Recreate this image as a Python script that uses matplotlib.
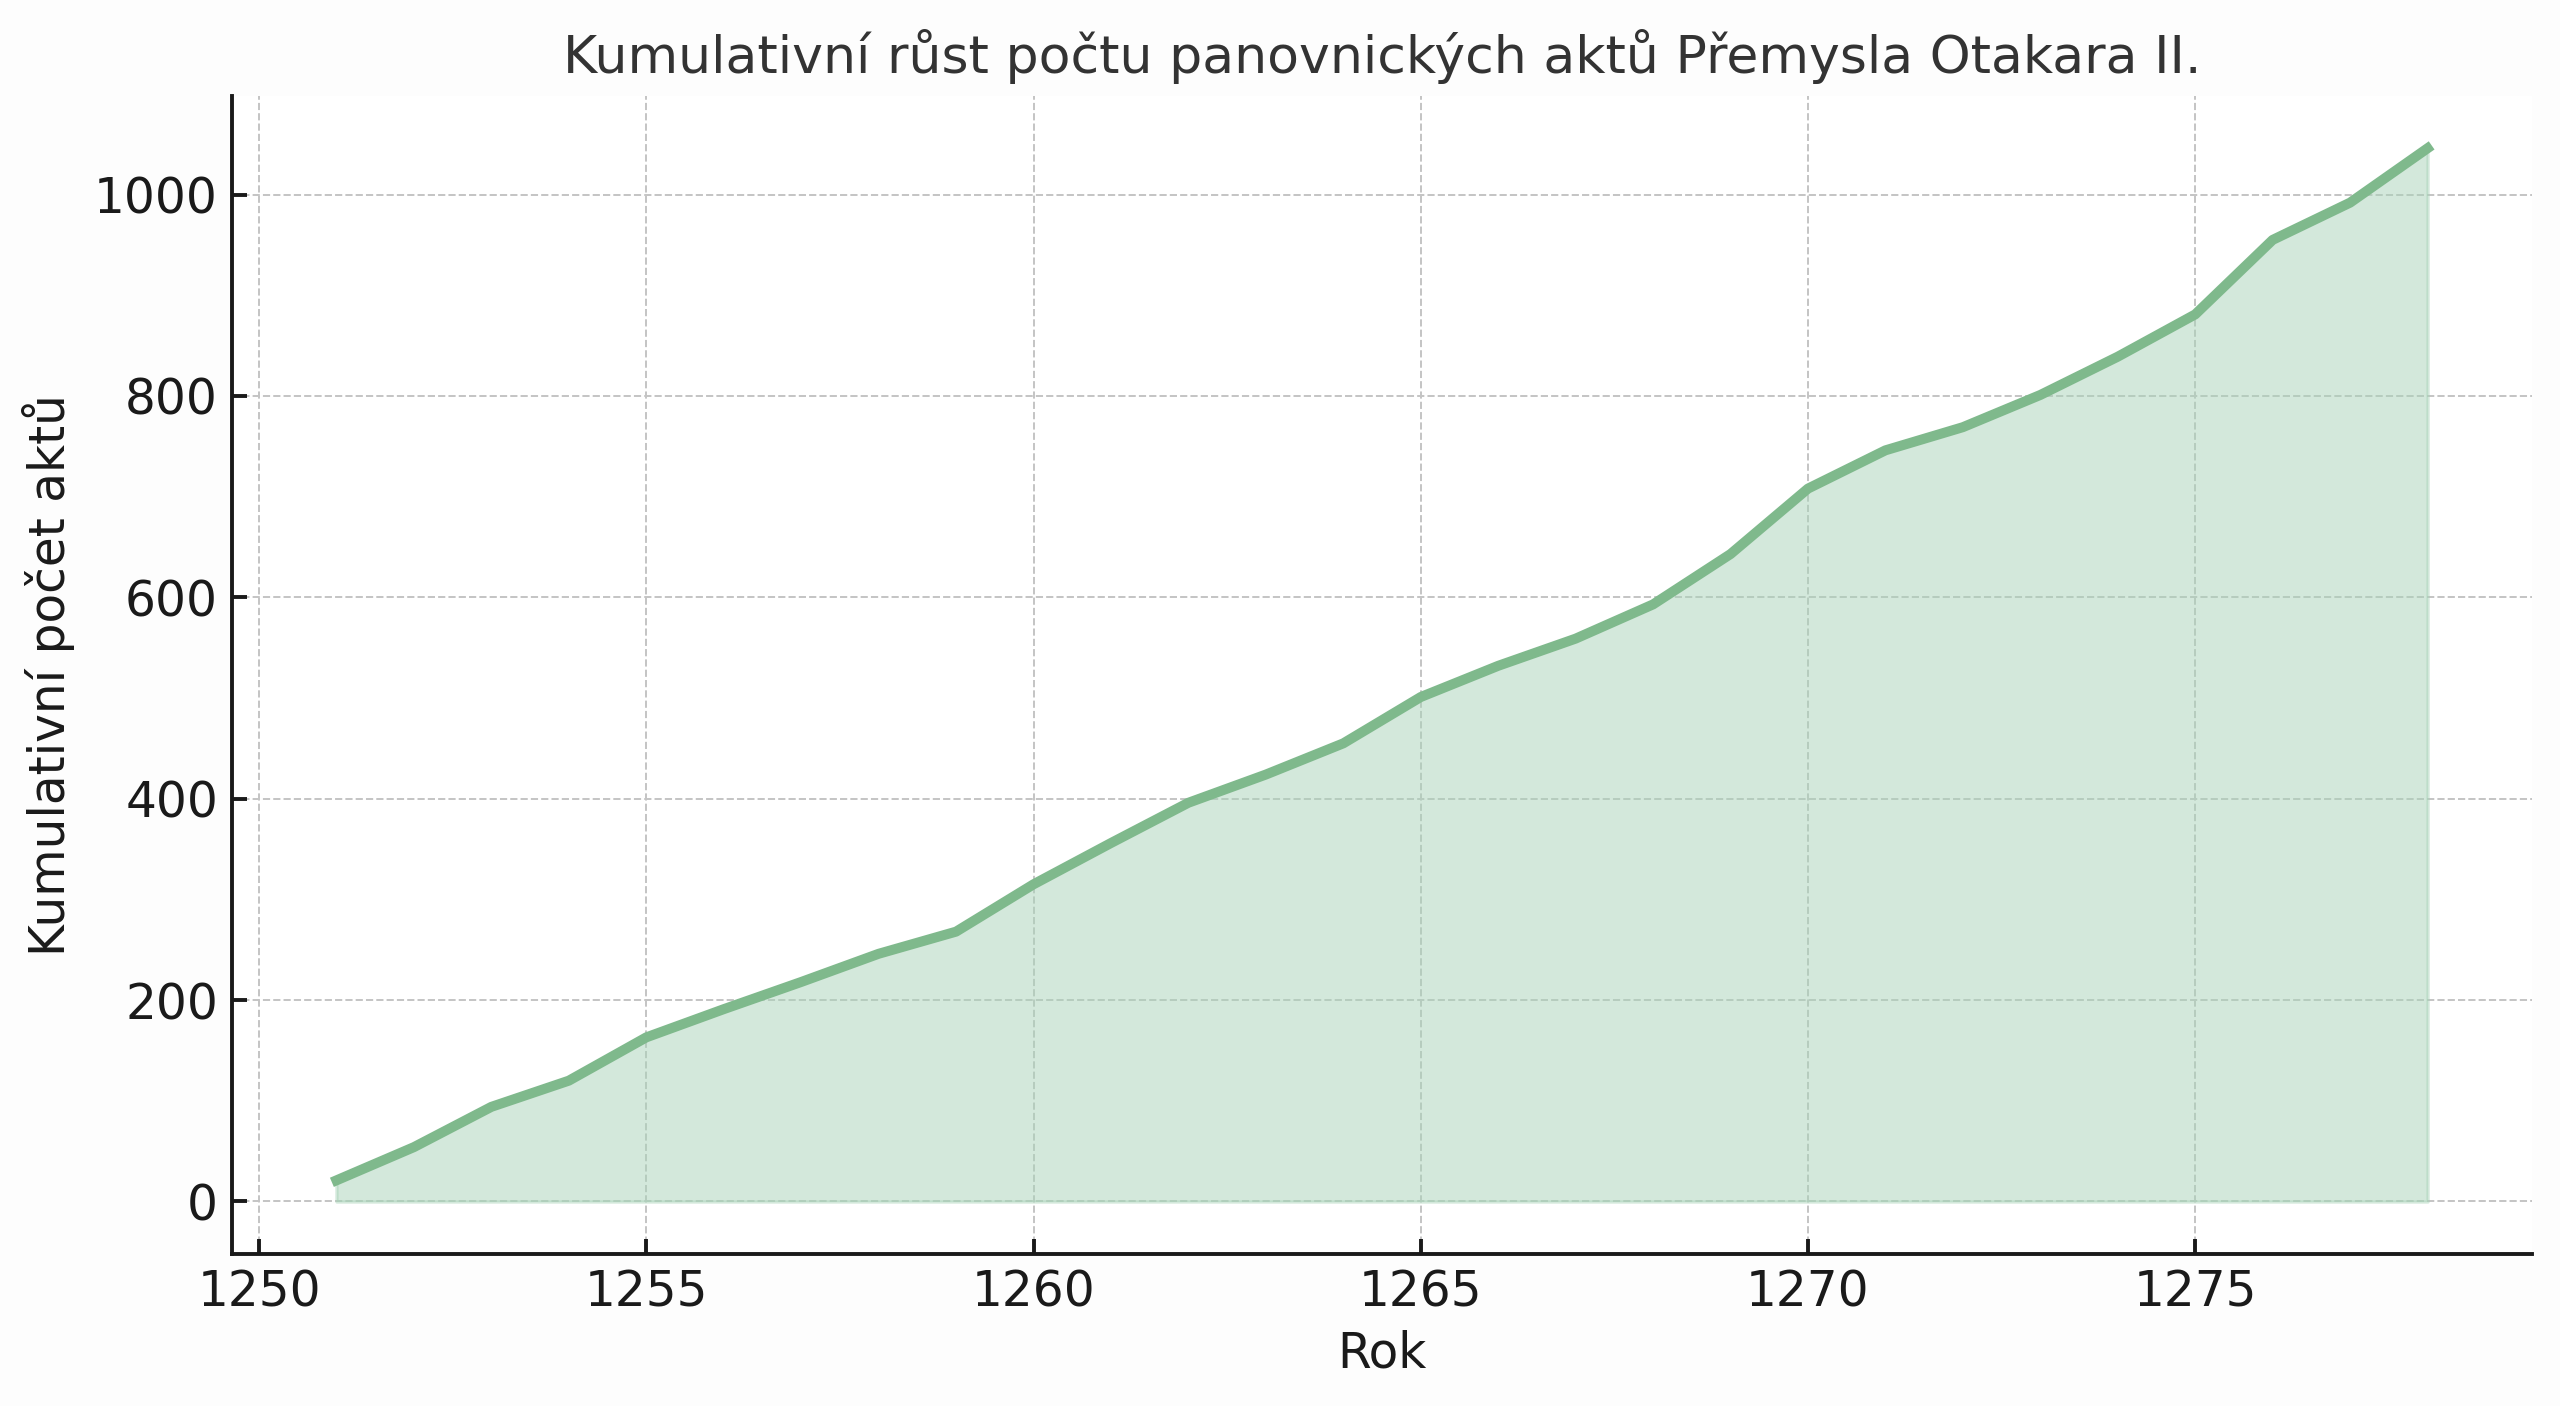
import matplotlib
matplotlib.use('Agg')
import matplotlib.pyplot as plt

years = list(range(1251, 1279))
cumulative_acts = [21, 54, 94, 120, 163, 191, 218, 246, 268, 315,
                   356, 396, 424, 455, 501, 532, 559, 593, 643, 708,
                   746, 769, 801, 839, 881, 955, 992, 1046]

title = 'Kumulativní růst počtu panovnických aktů Přemysla Otakara II.'
xlabel = 'Rok'
ylabel = 'Kumulativní počet aktů'

plt.rcParams['font.family'] = ['DejaVu Sans']

fig = plt.figure(figsize=(12.8, 7.03), dpi=200, facecolor='#fdfdfd')
ax = fig.add_axes([0.0906, 0.108, 0.8985, 0.824])
ax.set_facecolor('white')

ax.fill_between(years, cumulative_acts, color='#a9d3b9', alpha=0.5, lw=1.2, zorder=2)
ax.plot(years, cumulative_acts, color='#7fb98c', lw=3.6, zorder=3)

ax.set_xticks([1250, 1255, 1260, 1265, 1270, 1275])
ax.set_yticks([0, 200, 400, 600, 800, 1000])
ax.grid(True, linestyle='--', color='#c4c4c4', lw=0.7, zorder=0)
ax.set_axisbelow(True)

for s in ['top', 'right']:
    ax.spines[s].set_visible(False)
for s in ['left', 'bottom']:
    ax.spines[s].set_linewidth(1.4)
    ax.spines[s].set_color('#1a1a1a')

ax.tick_params(direction='in', length=5.4, width=1.4, colors='#1a1a1a',
               labelsize=17.5, pad=5)

ax.set_title(title, fontsize=18.75, color='#333333', pad=8)
ax.set_xlabel(xlabel, fontsize=17.5, color='#1a1a1a', labelpad=5)
ax.set_ylabel(ylabel, fontsize=17.5, color='#1a1a1a', labelpad=7)

fig.savefig('out.png', dpi=200, facecolor=fig.get_facecolor())
